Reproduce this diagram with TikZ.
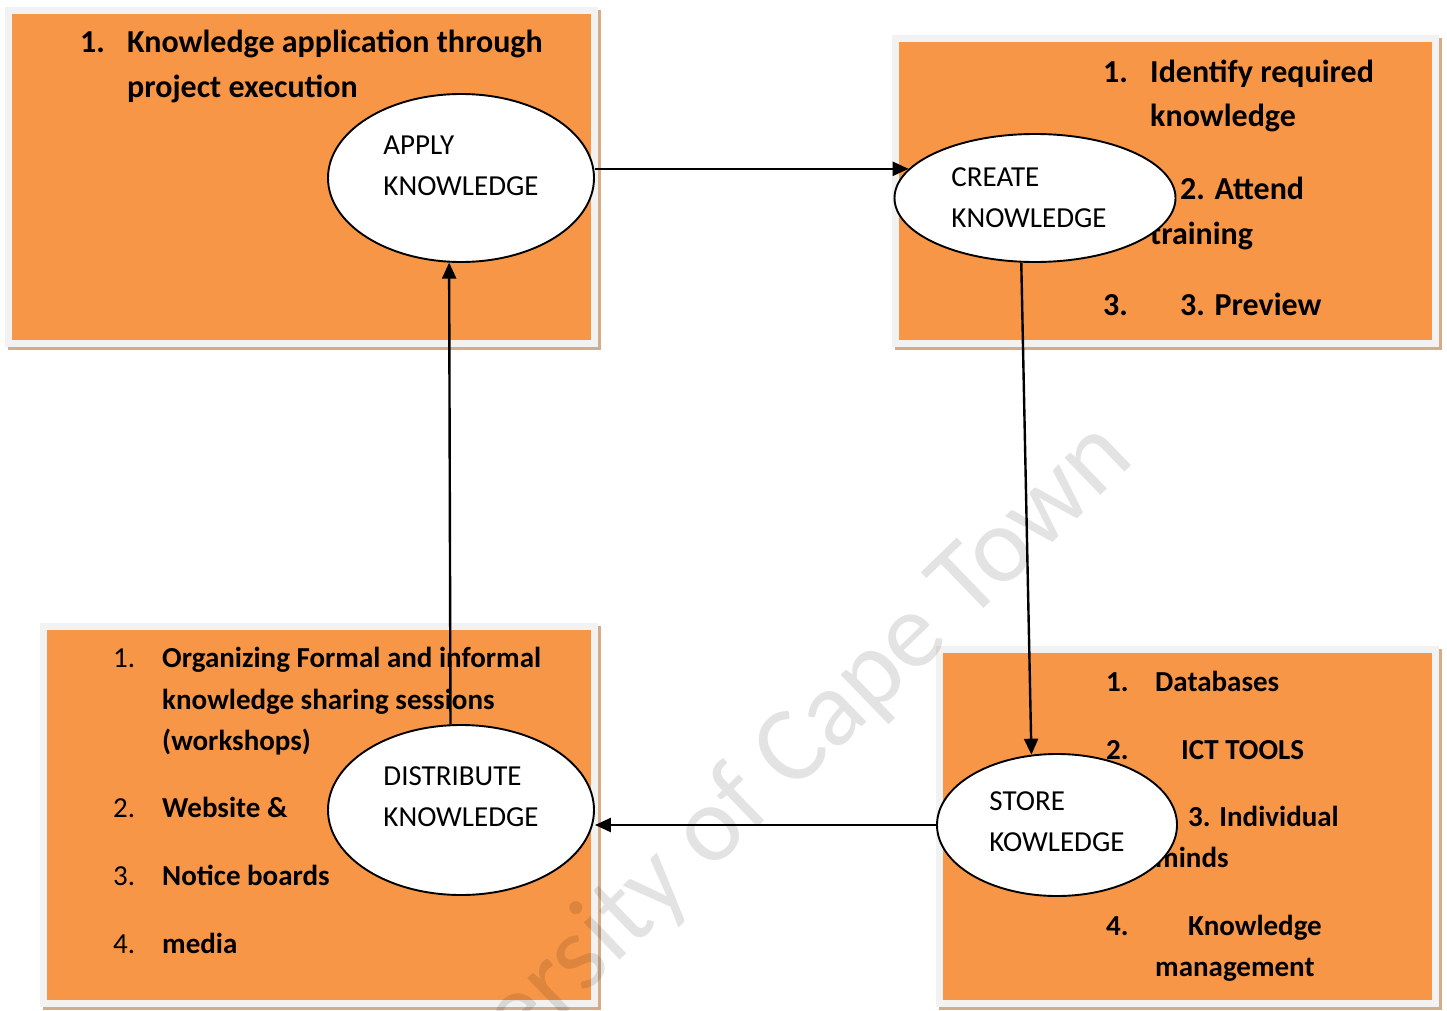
\documentclass[tikz,border=0pt]{standalone}
\usepackage{fontspec}
\setmainfont{Carlito}
\usetikzlibrary{arrows.meta,shapes.geometric}
\definecolor{kmorange}{RGB}{247,150,70}
\definecolor{kmframe}{RGB}{242,242,242}
\definecolor{kmtan}{RGB}{214,172,136}
\newcommand{\flow}[2]{\draw[line width=2.4pt,-{Triangle[length=16pt,width=14pt]}] (#1) -- (#2);}

\begin{document}
\begin{tikzpicture}[x=1pt,y=-1pt,
	panel/.style={rectangle,fill=kmorange,draw=kmframe,line width=7pt,inner sep=0pt,
		preaction={draw=kmtan,line width=7pt,transform canvas={xshift=3pt,yshift=-3pt}}},
	stage/.style={ellipse,draw,fill=white,line width=1.9pt,inner sep=0pt,align=left,
		font=\fontsize{29}{41}\selectfont},
	big/.style={anchor=base west,inner sep=0pt,font=\fontsize{32}{45}\selectfont\bfseries},
	small/.style={anchor=base west,inner sep=0pt,font=\fontsize{29}{41}\selectfont\bfseries},
	num/.style={anchor=base west,inner sep=0pt,font=\fontsize{29}{41}\selectfont}]
		\useasboundingbox (0,0) rectangle (1447,1011);
		
		% the four panels
		\node[panel,minimum width=586pt,minimum height=333pt](applybox) at (301.5,177) {};
		\node[panel,minimum width=540pt,minimum height=305pt](createbox) at (1165.5,191) {};
		\node[panel,minimum width=551pt,minimum height=377pt](distbox) at (319,815) {};
		\node[panel,minimum width=496pt,minimum height=354pt](storebox) at (1187.5,826.5) {};
		
		% apply
		\node[big](a1n) at (80,53) {1.};
		\node[big](a1) at (127,53) {Knowledge application through};
		\node[big](a1b) at (127,98) {project execution};
		
		% create
		\node[big](c1n) at (1103,83) {1.};
		\node[big](c1) at (1150,83) {Identify required};
		\node[big](c1b) at (1150,127) {knowledge};
		\node[big](c2) at (1180,199) {2. Attend};
		\node[big](c2b) at (1150,244) {training};
		\node[big](c3n) at (1103,315) {3.};
		\node[big](c3) at (1180,315) {3. Preview};
		
		% distribute
		\node[num](d1n) at (113,667) {1.};
		\node[small](d1) at (162,667) {Organizing Formal and informal};
		\node[small](d1b) at (162,709) {knowledge sharing sessions};
		\node[small](d1c) at (162,750) {(workshops)};
		\node[num](d2n) at (113,817) {2.};
		\node[small](d2) at (162,817) {Website \&};
		\node[num](d3n) at (113,885) {3.};
		\node[small](d3) at (162,885) {Notice boards};
		\node[num](d4n) at (113,953) {4.};
		\node[small](d4) at (162,953) {media};
		
		% store
		\node[small](s1n) at (1106,691) {1.};
		\node[small](s1) at (1155,691) {Databases};
		\node[small](s2n) at (1106,759) {2.};
		\node[small](s2) at (1181,759) {ICT TOOLS};
		\node[small](s3) at (1188,826) {3. Individual};
		\node[small](s3b) at (1155,867) {minds};
		\node[small](s4n) at (1106,935) {4.};
		\node[small](s4) at (1188,935) {Knowledge};
		\node[small](s4b) at (1155,976) {management};
		
		% the cycle
		\node[stage,minimum width=266pt,minimum height=168pt,text depth=24pt](apply) at (461,178) {APPLY\\KNOWLEDGE};
		\node[stage,minimum width=281pt,minimum height=128pt](create) at (1035,198) {CREATE\\KNOWLEDGE\rule{12pt}{0pt}};
		\node[stage,minimum width=240pt,minimum height=142pt,text depth=6pt](store) at (1057,825) {STORE\\KOWLEDGE};
		\node[stage,minimum width=266pt,minimum height=170pt,text depth=26pt](distribute) at (461,810) {DISTRIBUTE\\KNOWLEDGE};
		
		\flow{create.167 -| apply.east}{create.167}
		\flow{create.258}{store.110}
		\flow{store.west}{store.west -| distribute.east}
		\flow{distribute.97}{apply.262}
		
		\node[rotate=44,anchor=base west,text opacity=0.11,font=\fontsize{108}{108}\selectfont](mark) at (374,1198) {University of Cape Town};
	\end{tikzpicture}
\end{document}
